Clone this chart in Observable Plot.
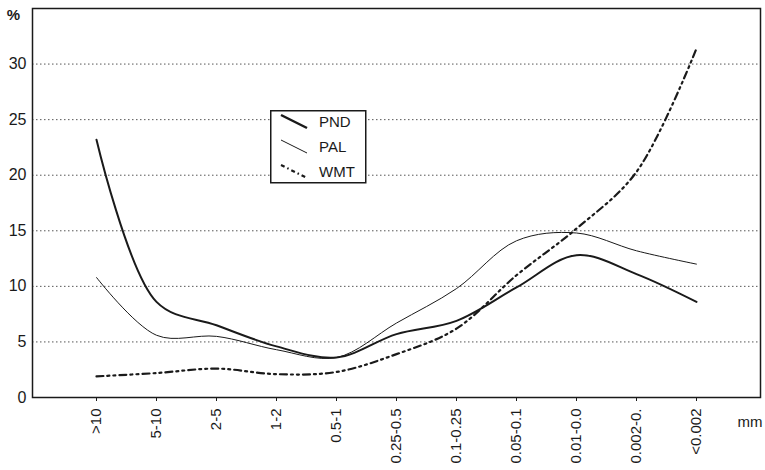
<!DOCTYPE html>
<html>
<head>
<meta charset="utf-8">
<script src="https://cdn.jsdelivr.net/npm/d3@7"></script>
<script src="https://cdn.jsdelivr.net/npm/@observablehq/plot@0.6"></script>
<style>
  html, body { margin: 0; padding: 0; background: #fff; }
  #wrap { position: relative; width: 765px; height: 470px; font-family: "Liberation Sans", Arial, sans-serif; }
  #legend { position: absolute; left: 270px; top: 110px; }
</style>
</head>
<body>
<div id="wrap"></div>
<script>
const fractions = [">10", "5-10", "2-5", "1-2", "0.5-1", "0.25-0.5", "0.1-0.25", "0.05-0.1", "0.01-0.0", "0.002-0.", "<0.002"];
const PND = [23.2, 8.6, 6.5, 4.6, 3.6, 5.7, 6.9, 9.9, 12.8, 11.1, 8.6];
const PAL = [10.8, 5.6, 5.5, 4.3, 3.6, 6.7, 9.8, 14.1, 14.8, 13.2, 12.0];
const WMT = [1.9, 2.2, 2.6, 2.1, 2.3, 3.9, 6.2, 11.0, 15.2, 20.3, 31.4];
const yTicks = [0, 5, 10, 15, 20, 25, 30];
const gridTicks = [5, 10, 15, 20, 25, 30];

const series = [
  {name: "PND", values: PND, width: 2, dash: null},
  {name: "PAL", values: PAL, width: 1, dash: null},
  {name: "WMT", values: WMT, width: 2.2, dash: "7,4,2,4,2,4"}
];

const lineMarks = series.map(s =>
  Plot.line(fractions.map((f, i) => ({f, v: s.values[i]})), {
    x: "f", y: "v", curve: "catmull-rom",
    stroke: "#1a1a1a", strokeWidth: s.width, strokeDasharray: s.dash
  })
);

const chart = Plot.plot({
  width: 765, height: 470,
  marginLeft: 32, marginRight: 5, marginTop: 8, marginBottom: 73,
  style: {fontFamily: "Liberation Sans, Arial, sans-serif", color: "#1a1a1a", background: "#fff"},
  x: {type: "point", domain: fractions, padding: 1},
  y: {domain: [0, 35]},
  marks: [
    Plot.gridY(gridTicks, {stroke: "#555", strokeOpacity: 1, strokeWidth: 1, strokeDasharray: "1.5,2.5"}),
    ...lineMarks,
    Plot.frame({stroke: "#1a1a1a", strokeWidth: 1.5}),
    Plot.axisY(yTicks, {tickSize: 0, tickPadding: 6, fontSize: 16, label: null}),
    Plot.axisX({tickRotate: -90, tickSize: 4, tickPadding: 7, fontSize: 15, label: null}),
    Plot.text(["%"], {frameAnchor: "top-left", dx: -19, dy: 1, fontSize: 15, fontWeight: "bold", textAnchor: "middle"}),
    Plot.text(["mm"], {frameAnchor: "bottom-right", dx: 2, dy: 25, fontSize: 15, textAnchor: "end", lineAnchor: "middle"})
  ]
});
document.getElementById("wrap").appendChild(chart);

// Legend
const lg = document.createElement("div");
lg.id = "legend";
const entries = series.map((s, i) => {
  const y0 = 5 + i * 25;
  return `<line x1="11" y1="${y0}" x2="37" y2="${y0 + 13}" stroke="#1a1a1a" stroke-width="${s.width === 2 ? 2.5 : s.width}" ${s.dash ? `stroke-dasharray="4,3,1.5,3"` : ""}/>
  <text x="49" y="${y0 + 8}" dominant-baseline="middle" font-size="15" fill="#1a1a1a">${s.name}</text>`;
}).join("");
lg.innerHTML = `<svg width="97" height="74" style="font-family:'Liberation Sans',Arial,sans-serif">
  <rect x="0.75" y="0.75" width="95" height="72" fill="#fff" stroke="#1a1a1a" stroke-width="1.5"/>
  ${entries}
</svg>`;
document.getElementById("wrap").appendChild(lg);
</script>
</body>
</html>
